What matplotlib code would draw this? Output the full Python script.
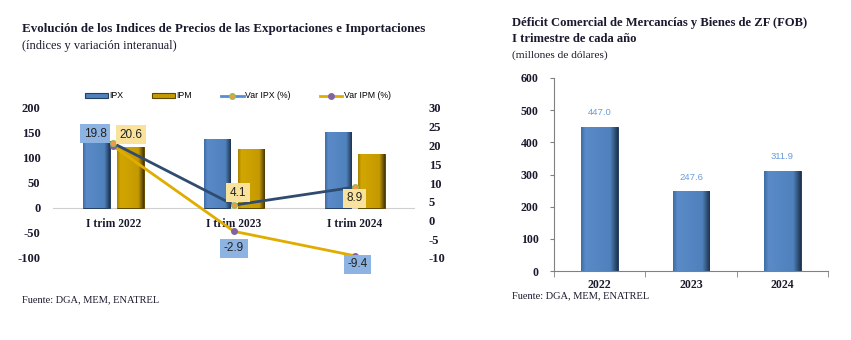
import numpy as np
import matplotlib
matplotlib.use("Agg")
import matplotlib.pyplot as plt
from matplotlib.colors import LinearSegmentedColormap
from matplotlib.lines import Line2D
from matplotlib.patches import Patch

plt.rcParams["axes.unicode_minus"] = False

# left chart data
periods = ["I trim 2022", "I trim 2023", "I trim 2024"]
ipx = [133, 138, 152]
ipm = [122, 118, 108]
var_ipx = [20.6, 4.1, 8.9]
var_ipm = [19.8, -2.9, -9.4]

# right chart data
years = ["2022", "2023", "2024"]
deficit = [447.0, 247.6, 311.9]

SERIF = "Liberation Serif"
SANS = "Liberation Sans"
BLUE = "#4F81BD"
BLUE_EDGE = "#243F60"
GOLD = "#C59A00"
GOLD_EDGE = "#5F4800"
NAVY = "#2F4B6E"
YELLOW = "#E0AC00"
TXT = "#1A1A2E"

blue_cm = LinearSegmentedColormap.from_list(
    "b", [(0, "#3F6DA5"), (0.12, "#5A8BC8"), (0.8, "#4F81BD"), (1, "#1F3550")])
gold_cm = LinearSegmentedColormap.from_list(
    "g", [(0, "#A88300"), (0.12, "#D2A600"), (0.8, "#C59A00"), (1, "#4A3800")])

fig = plt.figure(figsize=(8.51, 3.40), dpi=100)


def style_ticks(labels, size):
    for lab in labels:
        lab.set_fontfamily(SERIF)
        lab.set_fontweight("bold")
        lab.set_fontsize(size)
        lab.set_color(TXT)


def shade(axis, bars, cmap):
    grad = np.linspace(0, 1, 64).reshape(1, -1)
    for b in bars:
        x0, y0 = b.get_x(), b.get_y()
        im = axis.imshow(grad, cmap=cmap, aspect="auto", zorder=2.1,
                         extent=(x0, x0 + b.get_width(), y0, y0 + b.get_height()))
        im.set_clip_path(b)


# ---------------- left chart ----------------
ax = fig.add_axes([53 / 851, 1 - 258 / 340, 362 / 851, 150 / 340])
x = np.arange(len(periods))
w = 0.22
b1 = ax.bar(x - 0.14, ipx, w, color=BLUE, edgecolor=BLUE_EDGE, lw=0.7, zorder=2)
b2 = ax.bar(x + 0.14, ipm, w, color=GOLD, edgecolor=GOLD_EDGE, lw=0.7, zorder=2)
shade(ax, b1, blue_cm)
shade(ax, b2, gold_cm)
ax.axhline(0, color="#D0D0D0", lw=0.8, zorder=1)
ax.set_xlim(-0.5, 2.5)
ax.set_ylim(-100, 200)
ax.set_yticks(range(-100, 201, 50))
ax.set_xticks([])
for s in ax.spines.values():
    s.set_visible(False)
ax.tick_params(axis="y", length=0, pad=9)
style_ticks(ax.get_yticklabels(), 9)
for i, p in enumerate(periods):
    ax.annotate(p, (i, 0), xytext=(0, -7), textcoords="offset points",
                ha="center", va="top", fontfamily=SERIF, fontweight="bold",
                fontsize=8.3, color=TXT)

ax2 = ax.twinx()
ax2.set_ylim(-10, 30)
ax2.set_yticks(range(-10, 31, 5))
for s in ax2.spines.values():
    s.set_visible(False)
ax2.tick_params(axis="y", length=0, pad=10)
style_ticks(ax2.get_yticklabels(), 9)
ax2.plot(x, var_ipm, color=YELLOW, lw=2, marker="o", ms=4,
         mfc="#8064A2", mec="#8064A2", zorder=3)
ax2.plot(x, var_ipx, color=NAVY, lw=2, marker="o", ms=4,
         mfc="#F79646", mec="#9BBB59", zorder=3)

ipx_off = [(13, 6), (3, 9), (0, -8)]
ipm_off = [(-13, 9), (0, -12), (2, -6)]
for i, v in enumerate(var_ipx):
    ax2.annotate(f"{v:.1f}", (i, v), xytext=ipx_off[i], textcoords="offset points",
                 ha="center", va="center", fontfamily=SANS, fontsize=8.5, color="#222222",
                 bbox=dict(boxstyle="square,pad=0.3", fc="#F9E29C", ec="none"), zorder=5)
for i, v in enumerate(var_ipm):
    ax2.annotate(f"{v:.1f}", (i, v), xytext=ipm_off[i], textcoords="offset points",
                 ha="center", va="center", fontfamily=SANS, fontsize=8.5, color="#222222",
                 bbox=dict(boxstyle="square,pad=0.3", fc="#8DB3E2", ec="none"), zorder=5)

handles = [
    Patch(fc=BLUE, ec=BLUE_EDGE, lw=0.8),
    Patch(fc=GOLD, ec=GOLD_EDGE, lw=0.8),
    Line2D([], [], color="#558ED5", lw=2, marker="o", ms=4, mfc="#F79646", mec="#9BBB59"),
    Line2D([], [], color=YELLOW, lw=2, marker="o", ms=4, mfc="#8064A2", mec="#8064A2"),
]
fig.legend(handles, ["IPX", "IPM", "Var IPX (%)", "Var IPM (%)"], loc="center",
           bbox_to_anchor=(238 / 851, 1 - 96 / 340), ncol=4, frameon=False,
           prop={"family": SANS, "size": 6.3}, handlelength=2.6, handleheight=0.5,
           handletextpad=0.15, columnspacing=3.3)

fig.text(22 / 851, 1 - 29 / 340,
         "Evolución de los Indices de Precios de las Exportaciones e Importaciones",
         fontfamily=SERIF, fontweight="bold", fontsize=9.4, color=TXT, va="center")
fig.text(22 / 851, 1 - 46 / 340, "(índices y variación interanual)",
         fontfamily=SERIF, fontsize=8.9, color=TXT, va="center")
fig.text(22 / 851, 1 - 300 / 340, "Fuente: DGA, MEM, ENATREL",
         fontfamily=SERIF, fontsize=7.5, color=TXT, va="center")

# ---------------- right chart ----------------
bx = fig.add_axes([554 / 851, 1 - 271 / 340, 274 / 851, 193 / 340])
xr = np.arange(len(years))
b3 = bx.bar(xr, deficit, 0.4, color=BLUE, edgecolor=BLUE_EDGE, lw=0.7, zorder=2)
shade(bx, b3, blue_cm)
bx.set_xlim(-0.5, 2.5)
bx.set_ylim(0, 600)
bx.set_yticks(range(0, 601, 100))
bx.set_xticks(xr)
bx.set_xticklabels(years)
bx.set_xticks([-0.5, 0.5, 1.5, 2.5], minor=True)
bx.tick_params(axis="x", which="major", length=0, pad=6)
bx.tick_params(axis="x", which="minor", length=4, color="#808080", direction="out")
bx.tick_params(axis="y", length=3, color="#808080", pad=8)
for s in ["top", "right"]:
    bx.spines[s].set_visible(False)
for s in ["left", "bottom"]:
    bx.spines[s].set_color("#808080")
    bx.spines[s].set_linewidth(0.8)
style_ticks(bx.get_xticklabels() + bx.get_yticklabels(), 8.6)
for i, v in enumerate(deficit):
    bx.annotate(f"{v:.1f}", (i, v), xytext=(0, 7), textcoords="offset points",
                ha="center", va="bottom", fontfamily=SANS, fontsize=6.8, color="#6A9BDA")

fig.text(512 / 851, 1 - 23 / 340, "Déficit Comercial de Mercancías y Bienes de ZF (FOB)",
         fontfamily=SERIF, fontweight="bold", fontsize=9.1, color=TXT, va="center")
fig.text(512 / 851, 1 - 39 / 340, "I trimestre de cada año",
         fontfamily=SERIF, fontweight="bold", fontsize=9.1, color=TXT, va="center")
fig.text(512 / 851, 1 - 55 / 340, "(millones de dólares)",
         fontfamily=SERIF, fontsize=8.2, color=TXT, va="center")
fig.text(512 / 851, 1 - 296 / 340, "Fuente: DGA, MEM, ENATREL",
         fontfamily=SERIF, fontsize=7.5, color=TXT, va="center")

fig.savefig("out.png", dpi=100)
